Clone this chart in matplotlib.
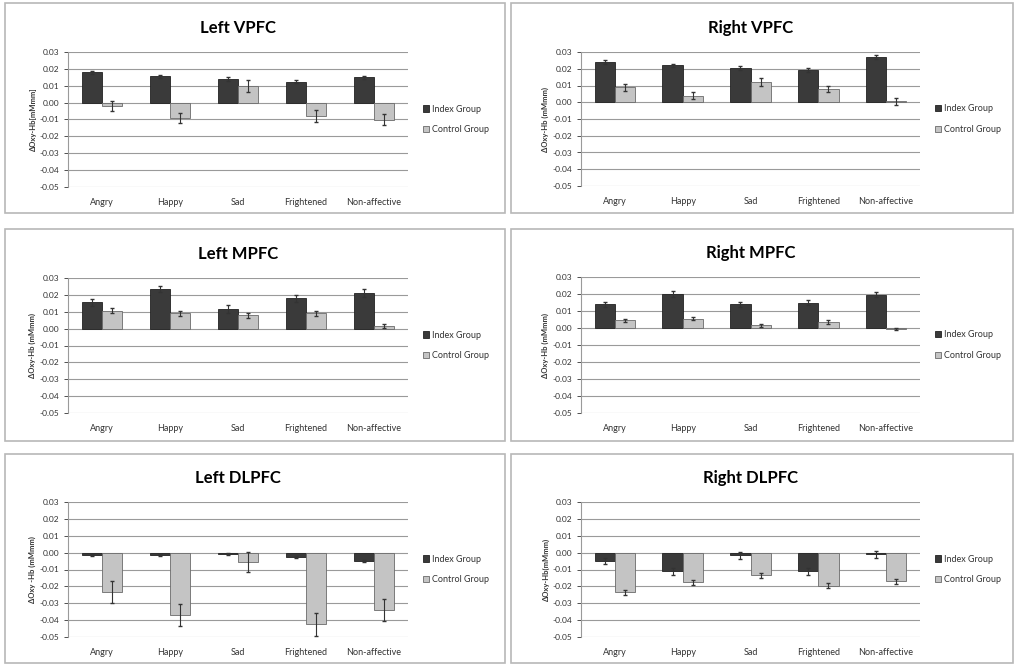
import matplotlib.pyplot as plt
import matplotlib.ticker as mticker
from matplotlib.patches import Rectangle
import numpy as np

plt.rcParams['font.family'] = ['Lato', 'DejaVu Sans']

categories = ['Angry', 'Happy', 'Sad', 'Frightened', 'Non-affective']
titles = ['Left VPFC', 'Right VPFC', 'Left MPFC', 'Right MPFC', 'Left DLPFC', 'Right DLPFC']
ylabels = ['\u0394Oxy-Hb[mMmm]', '\u0394Oxy-Hb (mMmm)', '\u0394Oxy-Hb (mMmm)',
           '\u0394Oxy-Hb (mMmm)', '\u0394Oxy -Hb (mMmm)', '\u0394Oxy-Hb(mMmm)']

index_vals = [
    [0.018, 0.0155, 0.014, 0.0125, 0.015],
    [0.024, 0.022, 0.0205, 0.019, 0.027],
    [0.0155, 0.0235, 0.0115, 0.018, 0.021],
    [0.014, 0.020, 0.014, 0.015, 0.0195],
    [-0.0015, -0.0015, -0.001, -0.0025, -0.005],
    [-0.005, -0.011, -0.0015, -0.011, -0.001],
]
index_err = [
    [0.001, 0.001, 0.001, 0.001, 0.001],
    [0.0012, 0.001, 0.0012, 0.0012, 0.0012],
    [0.002, 0.002, 0.0025, 0.002, 0.0025],
    [0.0015, 0.0015, 0.0015, 0.0015, 0.0015],
    [0.0005, 0.0005, 0.0005, 0.0005, 0.0007],
    [0.002, 0.002, 0.002, 0.002, 0.002],
]
control_vals = [
    [-0.002, -0.009, 0.010, -0.008, -0.010],
    [0.009, 0.004, 0.012, 0.008, 0.0005],
    [0.0105, 0.009, 0.008, 0.009, 0.0015],
    [0.0045, 0.0055, 0.0015, 0.0035, -0.0005],
    [-0.0235, -0.037, -0.0055, -0.0425, -0.034],
    [-0.0235, -0.0175, -0.0135, -0.0195, -0.017],
]
control_err = [
    [0.003, 0.003, 0.0035, 0.0035, 0.0035],
    [0.002, 0.002, 0.0025, 0.002, 0.002],
    [0.0015, 0.0015, 0.0015, 0.0015, 0.001],
    [0.001, 0.001, 0.001, 0.001, 0.0005],
    [0.0065, 0.0065, 0.006, 0.0068, 0.0065],
    [0.0015, 0.0015, 0.0015, 0.0015, 0.0015],
]

W, H = 1016, 668
fig = plt.figure(figsize=(W / 100, H / 100), dpi=100)

# panel boxes (pixels: x0, y0, x1, y1) and plot areas
boxes = [(5, 3, 505, 213), (511, 3, 1013, 213),
         (5, 229, 505, 441), (511, 229, 1013, 441),
         (5, 454, 505, 663), (511, 454, 1013, 663)]
areas = [(68, 52, 408, 187), (581, 52, 920, 186),
         (68, 278, 408, 413), (581, 277, 920, 413),
         (68, 502, 408, 637), (581, 502, 920, 637)]

def px(x0, y0, x1, y1):
    return [x0 / W, 1 - y1 / H, (x1 - x0) / W, (y1 - y0) / H]

for b in boxes:
    l, bt, w, h = px(*b)
    fig.patches.append(Rectangle((l, bt), w, h, transform=fig.transFigure,
                                 fill=False, edgecolor='#b8b8b8', linewidth=1.2))

x = np.arange(len(categories))
bw = 0.30
for i in range(6):
    ax = fig.add_axes(px(*areas[i]))
    ax.bar(x - bw / 2, index_vals[i], bw, color='#3a3a3a', edgecolor='#222222',
           linewidth=0.6, yerr=index_err[i], error_kw=dict(ecolor='#333333', elinewidth=0.8, capsize=1.5),
           label='Index Group', zorder=3)
    ax.bar(x + bw / 2, control_vals[i], bw, color='#c4c4c4', edgecolor='#6a6a6a',
           linewidth=0.6, yerr=control_err[i], error_kw=dict(ecolor='#333333', elinewidth=0.8, capsize=1.5),
           label='Control Group', zorder=3)
    ax.set_xlim(-0.5, 4.5)
    ax.set_ylim(-0.05, 0.03)
    ax.set_yticks(np.arange(-0.05, 0.031, 0.01))
    ax.yaxis.set_major_formatter(mticker.FormatStrFormatter('%.2f'))
    ax.grid(axis='y', color='#9a9a9a', linewidth=0.8, zorder=0)
    ax.set_xticks(x)
    ax.set_xticklabels(categories, fontsize=6.5, color='#333333')
    ax.tick_params(axis='x', length=0, pad=8)
    ax.tick_params(axis='y', labelsize=6, colors='#333333', length=3, width=0.6)
    for s in ['top', 'right', 'bottom']:
        ax.spines[s].set_visible(False)
    ax.spines['left'].set_color('#9a9a9a')
    ax.set_ylabel(ylabels[i], fontsize=5.5, fontweight='bold', color='#333333', labelpad=2)
    ax.set_title(titles[i], fontsize=12, fontweight='bold', pad=14)
    ax.legend(loc='center left', bbox_to_anchor=(1.02, 0.5), frameon=False,
              fontsize=6.5, handlelength=0.7, handleheight=0.7, handletextpad=0.3,
              labelspacing=1.3, labelcolor='#333333')

fig.savefig('out.png', dpi=100)
